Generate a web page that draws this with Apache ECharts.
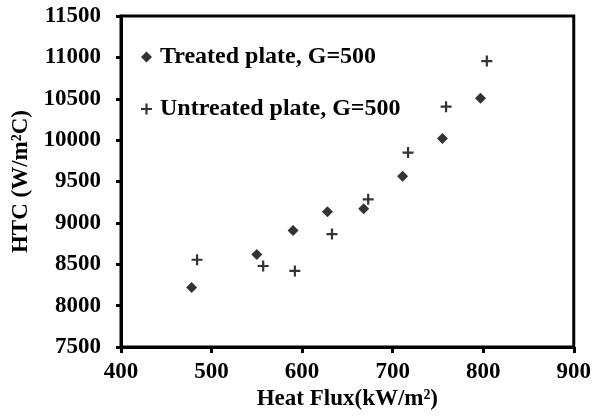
<!DOCTYPE html>
<html>
<head>
<meta charset="utf-8">
<script src="https://cdn.jsdelivr.net/npm/echarts@6/dist/echarts.min.js"></script>
<style>
  html, body { margin: 0; padding: 0; background: #fff; }
  #chart { width: 594px; height: 416px; }
</style>
</head>
<body>
<div id="chart"></div>
<script>
// heat flux (kW/m2) and HTC (W/m2C)
var treatedFlux = [478, 550, 590, 628, 668, 711, 755, 797];
var treatedHtc = [8220, 8620, 8910, 9135, 9170, 9565, 10020, 10505];
var untreatedFlux = [484, 557, 592, 633, 673, 717, 759, 804];
var untreatedHtc = [8555, 8480, 8420, 8865, 9285, 9850, 10405, 10955];

var seriesNames = ['Treated plate, G=500', 'Untreated plate, G=500'];

var plusPath = 'path://M4,0H6V4H10V6H6V10H4V6H0V4H4Z';
var font = 'Liberation Serif';

function pairs(xs, ys) {
    return xs.map(function (x, i) { return [x, ys[i]]; });
}

var myChart = echarts.init(document.getElementById('chart'));
var option = {
    backgroundColor: '#fff',
    animation: false,
    grid: {
        left: 121, right: 20, top: 16, bottom: 67,
        show: true,
        borderColor: '#000',
        borderWidth: 3
    },
    legend: {
        orient: 'vertical',
        left: 136,
        top: 40,
        itemWidth: 11,
        itemHeight: 11,
        itemGap: 28,
        data: [
            { name: seriesNames[0], icon: 'diamond' },
            { name: seriesNames[1], icon: plusPath }
        ],
        textStyle: {
            fontFamily: font,
            fontWeight: 'bold',
            fontSize: 24,
            color: '#000',
            padding: [0, 0, 0, 3]
        }
    },
    xAxis: {
        type: 'value',
        min: 400, max: 900, interval: 100,
        name: 'Heat Flux(kW/m²)',
        nameLocation: 'middle',
        nameGap: 37,
        nameTextStyle: { fontFamily: font, fontWeight: 'bold', fontSize: 23, color: '#000' },
        axisLine: { show: true, lineStyle: { color: '#000', width: 3 } },
        axisTick: { show: true, length: 6, lineStyle: { color: '#000', width: 3 } },
        axisLabel: {
            fontFamily: font, fontWeight: 'bold', fontSize: 23, color: '#000', margin: 13,
            formatter: function (v) { return String(v); }
        },
        splitLine: { show: false }
    },
    yAxis: {
        type: 'value',
        min: 7500, max: 11500, interval: 500,
        name: 'HTC (W/m²C)',
        nameLocation: 'middle',
        nameGap: 84,
        nameRotate: 90,
        nameTextStyle: { fontFamily: font, fontWeight: 'bold', fontSize: 23, color: '#000' },
        axisLine: { show: true, lineStyle: { color: '#000', width: 3 } },
        axisTick: { show: true, length: 5, lineStyle: { color: '#000', width: 3 } },
        axisLabel: {
            fontFamily: font, fontWeight: 'bold', fontSize: 23, color: '#000', margin: 20,
            formatter: function (v) { return String(v); }
        },
        splitLine: { show: false }
    },
    series: [
        {
            name: seriesNames[0],
            type: 'scatter',
            symbol: 'diamond',
            symbolSize: 11,
            itemStyle: { color: '#000' },
            data: pairs(treatedFlux, treatedHtc)
        },
        {
            name: seriesNames[1],
            type: 'scatter',
            symbol: plusPath,
            symbolSize: 11,
            itemStyle: { color: '#000' },
            data: pairs(untreatedFlux, untreatedHtc)
        }
    ]
};
myChart.setOption(option);
</script>
</body>
</html>
